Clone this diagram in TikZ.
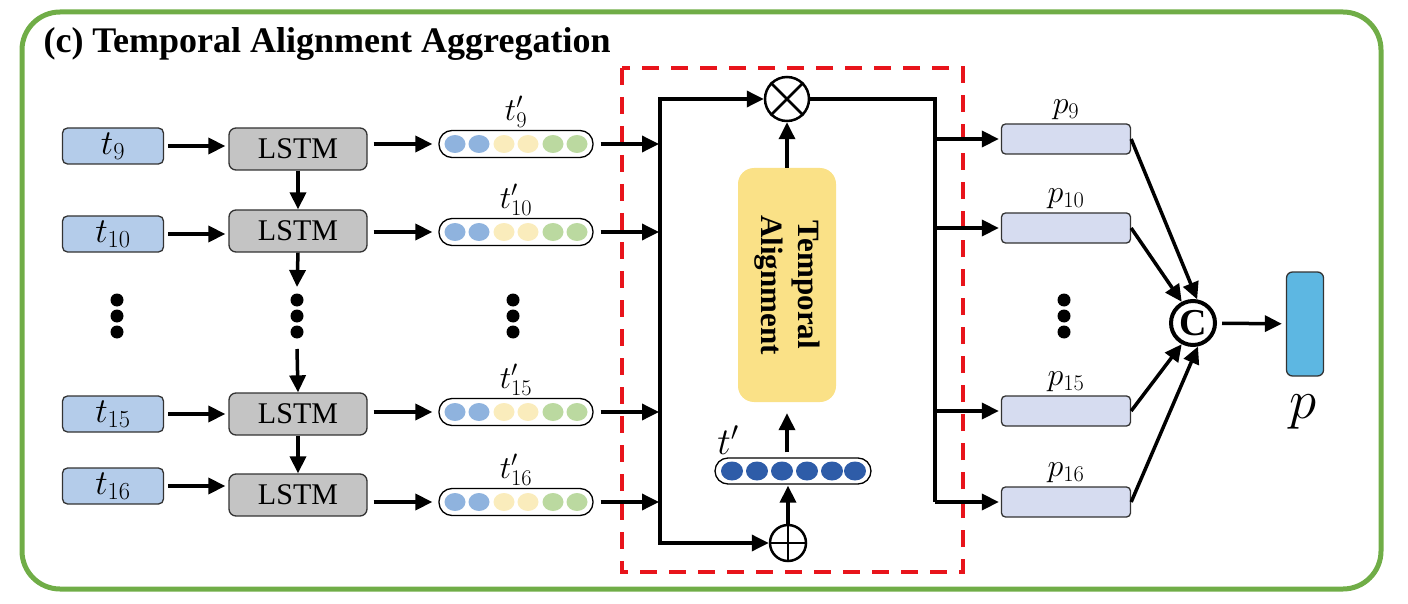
\RequirePackage{fix-cm}
\documentclass[tikz,border=0pt]{standalone}
\usepackage{amsmath}
\usepackage{fontspec}
\setmainfont{Liberation Serif}
\usetikzlibrary{arrows.meta,positioning}

\definecolor{marcverd}{RGB}{112,173,71}
\definecolor{tcol}{RGB}{180,204,234}
\definecolor{lstmcol}{RGB}{196,196,196}
\definecolor{dblau}{RGB}{143,179,222}
\definecolor{dgroc}{RGB}{250,236,188}
\definecolor{dverd}{RGB}{187,217,160}
\definecolor{dfosc}{RGB}{46,92,168}
\definecolor{ycol}{RGB}{250,225,135}
\definecolor{pcol}{RGB}{214,220,240}
\definecolor{pocol}{RGB}{93,183,226}
\definecolor{vermell}{RGB}{232,20,27}

\begin{document}
\begin{tikzpicture}[x=1pt, y=-1pt,
    flx/.style={line width=3.5pt, -{Triangle[length=17pt, width=16pt]}},
    tbox/.style={draw=black!80, line width=1.3pt, fill=tcol, rounded corners=5pt, minimum width=101pt, minimum height=36pt, inner sep=0pt, font=\fontsize{35}{36}\selectfont},
    lstm/.style={draw=black!80, line width=1.3pt, fill=lstmcol, rounded corners=7pt, minimum width=138pt, minimum height=42pt, inner sep=0pt, font=\fontsize{30}{32}\selectfont},
    pbox/.style={draw=black!80, line width=1.3pt, fill=pcol, rounded corners=4pt, minimum width=129pt, minimum height=30pt, inner sep=0pt},
    vec/.style={draw, line width=1.3pt, rounded corners=13pt, minimum width=154pt, minimum height=27pt, inner sep=0pt},
    etiq/.style={font=\fontsize{32}{34}\selectfont},
    opcirc/.style={circle, draw, line width=2.5pt, inner sep=0pt}
]
    \useasboundingbox (0,0) rectangle (1408,604);

    % MARC
    \draw[marcverd, line width=5pt, rounded corners=38pt] (22,12) rectangle (1381,589);
    \node[anchor=west, font=\bfseries\fontsize{36}{38}\selectfont] (titol) at (40,44) {(c) Temporal Alignment Aggregation};

    % REQUADRE VERMELL
    \draw[vermell, line width=4pt, dash pattern=on 17pt off 12pt] (622,68) rectangle (963,572);

    % FILES: ENTRADA, LSTM I VECTORS
    \coordinate (bt) at (660,99);
    \coordinate (bb) at (660,543);
    \foreach \n/\yt/\yl/\yv in {9/146/149/144, 10/234/231/232, 15/414/414/412, 16/486/495/502} {
        \node[tbox] (t\n) at (113,\yt) {$t_{\n}$};
        \node[lstm] (L\n) at (298,\yl) {LSTM};
        \node[vec] (v\n) at (516,\yv) {};
        \foreach \dx/\c in {-61/dblau, -37/dblau, -12/dgroc, 12/dgroc, 37/dverd, 61/dverd} {
            \fill[\c] ({516+\dx},\yv) ellipse (10.5 and 9);
        }
        \node[etiq] (tl\n) at (516,{\yv-32}) {$t'_{\n}$};
        \draw[flx, shorten <=4pt, shorten >=3pt] (t\n.east) -- (t\n.east -| L\n.west);
        \draw[flx, shorten <=6pt, shorten >=6pt] (v\n.west -| L\n.east) -- (v\n.west);
        \draw[flx, shorten <=7pt, shorten >=1pt] (v\n.east) -- (v\n.east -| bt);
    }

    % FLETXES ENTRE LSTM
    \coordinate (mdt) at (297,287);
    \coordinate (mdb) at (297,349);
    \draw[flx] (L9.south) -- (L10.north);
    \draw[flx] (L10.south) -- (mdt);
    \draw[flx] (mdb) -- (L15.north);
    \draw[flx] (L15.south) -- (L16.north);

    % PUNTS SUSPENSIUS
    \foreach \x in {117, 297, 513, 1064} {
        \foreach \y in {300, 316, 332} {
            \fill (\x,\y) circle (6.5);
        }
    }

    % ALINEACIO TEMPORAL
    \node[opcirc, minimum size=44pt] (mul) at (787,99) {};
    \draw[line width=2.5pt] (mul.45) -- (mul.225) (mul.135) -- (mul.315);
    \node[opcirc, minimum size=36pt] (add) at (788,543) {};
    \draw[line width=2.5pt] (add.north) -- (add.south) (add.east) -- (add.west);
    \node[fill=ycol, rounded corners=16pt, minimum width=98pt, minimum height=234pt] (align) at (787,285) {};
    \node[rotate=-90, align=center, font=\bfseries\fontsize{31}{37}\selectfont] (aligntxt) at (align.center) {Temporal\\Alignment};
    \node[vec, minimum width=156pt, minimum height=26pt] (tp) at (793,471) {};
    \foreach \dx in {-61, -36, -11, 14, 39, 62} {
        \fill[dfosc] ({793+\dx},471) ellipse (11 and 9.5);
    }
    \node[font=\fontsize{38}{38}\selectfont] (tpl) at (728,440) {$t'$};

    \draw[flx] (bb) -- (bt) -- (mul);
    \draw[flx] (bt) -- (bb) -- (add);
    \draw[flx] (align.north) -- (mul.south);
    \draw[flx, shorten <=5pt, shorten >=11pt] (tp.north -| align.south) -- (align.south);
    \draw[flx, shorten >=1pt] (add.north) -- (add.north |- tp.south);

    % SORTIDES p
    \coordinate (rt) at (935,99);
    \coordinate (rb) at (935,502);
    \draw[line width=3.5pt] (mul.east) -- (rt) -- (rb);
    \foreach \n/\yp in {9/139, 10/228, 15/411, 16/502} {
        \node[pbox] (p\n) at (1066,\yp) {};
        \node[etiq] (pl\n) at (1066,{\yp-29}) {$p_{\n}$};
        \draw[flx, shorten >=2pt] (rt |- p\n.west) -- (p\n.west);
    }

    % CONCATENACIO
    \node[circle, draw, line width=4pt, minimum size=44pt, inner sep=0pt, font=\bfseries\fontsize{38}{38}\selectfont] (cc) at (1193,323) {C};
    \draw[flx] (p9.east) -- (cc.80);
    \draw[flx] (p10.east) -- (cc.118);
    \draw[flx] (p15.east) -- (cc.242);
    \draw[flx] (p16.east) -- (cc.282);
    \node[draw=black!80, line width=1.3pt, fill=pocol, rounded corners=6pt, minimum width=37pt, minimum height=104pt] (pout) at (1305,324) {};
    \draw[flx, shorten <=5pt, shorten >=4pt] (cc) -- (pout);
    \node[font=\fontsize{55}{55}\selectfont] (pol) at (1303,412) {$p$};
\end{tikzpicture}
\end{document}
